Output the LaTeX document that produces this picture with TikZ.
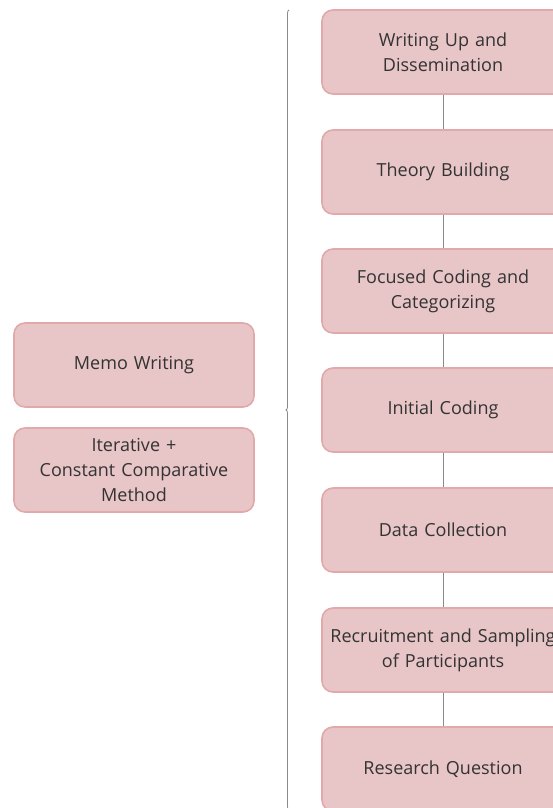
\documentclass[tikz,border=0pt]{standalone}
\usepackage{fontspec}
\setmainfont{Open Sans}
\usetikzlibrary{decorations.pathreplacing}
\definecolor{boxfill}{HTML}{E8C5C6}
\definecolor{boxline}{HTML}{E2A9AB}
\definecolor{txt}{HTML}{333333}
\definecolor{stem}{HTML}{8A8A8A}
\tikzset{
  stage/.style={draw=boxline, line width=1.6pt, fill=boxfill, rounded corners=11pt,
    text=txt, text width=240pt, minimum width=242pt, minimum height=84pt,
    align=center, inner sep=0pt, font=\fontsize{18}{25}\selectfont},
  link/.style={draw=stem, line width=0.8pt}
}
\begin{document}
\begin{tikzpicture}[x=1pt,y=-1pt]
\useasboundingbox (0,0) rectangle (553,808);
\node[stage] (wud) at (443,52) {Writing Up and\\Dissemination};
\node[stage] (thb) at (443,172) {Theory Building};
\node[stage] (fcc) at (443,291) {Focused Coding and\\Categorizing};
\node[stage] (inc) at (443,410) {Initial Coding};
\node[stage] (dac) at (443,530) {Data Collection};
\node[stage] (rsp) at (443,650) {Recruitment and Sampling\\of Participants};
\node[stage] (rsq) at (443,769) {Research Question};
\draw[link] (wud) -- (thb);
\draw[link] (thb) -- (fcc);
\draw[link] (fcc) -- (inc);
\draw[link] (inc) -- (dac);
\draw[link] (dac) -- (rsp);
\draw[link] (rsp) -- (rsq);

\node[stage, minimum width=240pt] (mem) at (134,365) {Memo Writing};
\node[stage, minimum width=240pt] (itr) at (134,470) {Iterative +\\Constant Comparative\\Method};

\coordinate (btop) at (289,10);
\coordinate (bbot) at (289,810);
\draw[link, decorate, decoration={brace, amplitude=3pt}] (bbot) -- (btop);
\end{tikzpicture}
\end{document}
